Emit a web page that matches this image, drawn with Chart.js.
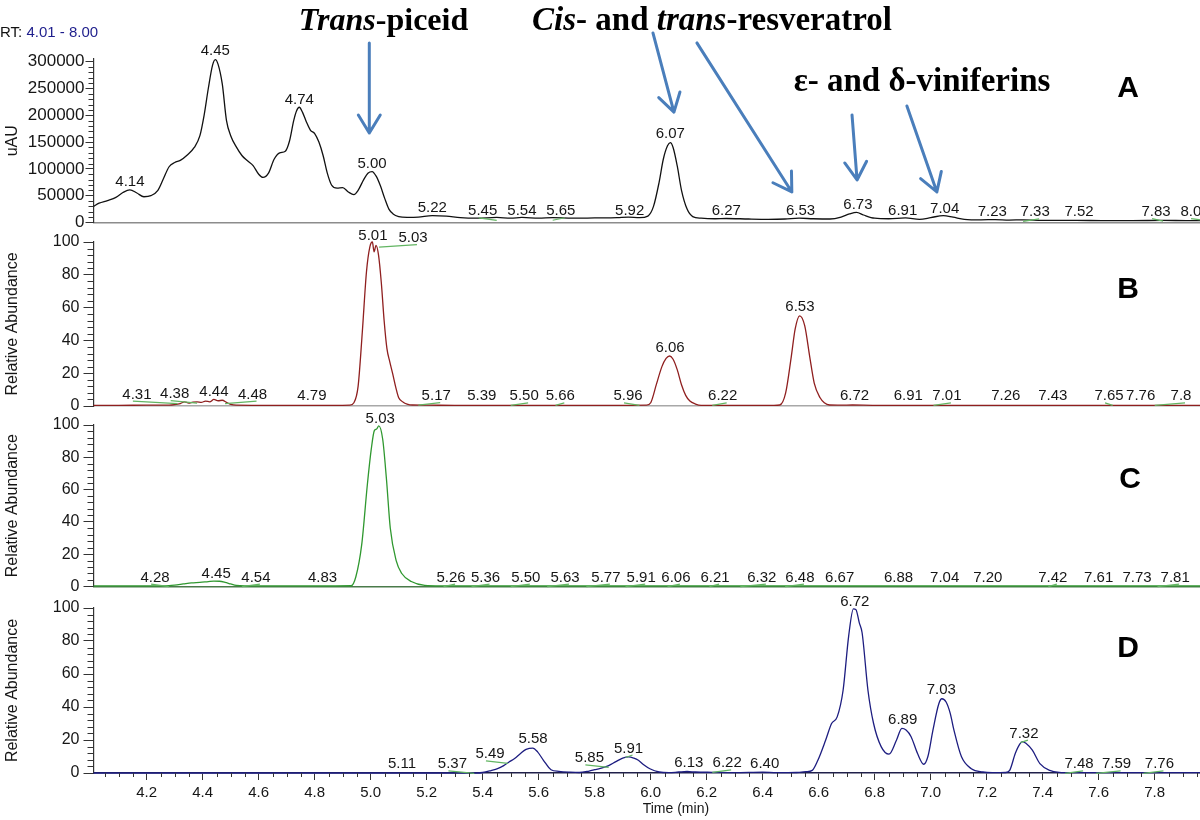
<!DOCTYPE html>
<html>
<head>
<meta charset="utf-8">
<title>Chromatograms A-D</title>
<script src="https://cdn.jsdelivr.net/npm/chart.js@4.4.1/dist/chart.umd.min.js"></script>
<style>
  html, body { margin: 0; padding: 0; background: #fff; overflow: hidden; }
  #wrap { position: relative; width: 1200px; height: 820px; overflow: hidden; background: #fff; }
  #wrap canvas { position: absolute; left: 0; }
</style>
</head>
<body>
<div id="wrap">
  <canvas id="chartA" width="1212" height="240" style="top:0px"></canvas>
  <canvas id="chartB" width="1212" height="200" style="top:220px"></canvas>
  <canvas id="chartC" width="1212" height="200" style="top:400px"></canvas>
  <canvas id="chartD" width="1212" height="240" style="top:580px"></canvas>
</div>
<script>
// --- tick labels ---
const xTicks = [4.2, 4.4, 4.6, 4.8, 5.0, 5.2, 5.4, 5.6, 5.8, 6.0, 6.2, 6.4, 6.6, 6.8, 7.0, 7.2, 7.4, 7.6, 7.8];
const yTicksA = [0, 50000, 100000, 150000, 200000, 250000, 300000];
const yTicksRel = [0, 20, 40, 60, 80, 100];

// --- A: UV trace (uAU) ---
const timeA = [4.01, 4.03, 4.06, 4.09, 4.115, 4.14, 4.165, 4.19, 4.215, 4.24, 4.26, 4.28, 4.30, 4.32, 4.345, 4.37, 4.39, 4.405, 4.42, 4.435,
  4.445, 4.455, 4.47, 4.485, 4.50, 4.52, 4.54, 4.56, 4.58, 4.60, 4.615, 4.635, 4.655, 4.675, 4.695, 4.71, 4.725, 4.735, 4.745, 4.757,
  4.77, 4.785, 4.80, 4.815, 4.83, 4.845, 4.86, 4.88, 4.90, 4.92, 4.94, 4.955, 4.975, 4.99, 5.005, 5.02, 5.035, 5.05, 5.065, 5.08,
  5.10, 5.13, 5.17, 5.22, 5.27, 5.32, 5.38, 5.45, 5.50, 5.54, 5.60, 5.65, 5.72, 5.80, 5.88, 5.92, 5.96, 5.99, 6.01, 6.03,
  6.045, 6.06, 6.07, 6.08, 6.095, 6.11, 6.13, 6.15, 6.18, 6.23, 6.27, 6.35, 6.42, 6.48, 6.53, 6.58, 6.64, 6.68, 6.71, 6.735,
  6.76, 6.80, 6.85, 6.91, 6.96, 7.00, 7.045, 7.08, 7.12, 7.18, 7.23, 7.28, 7.33, 7.40, 7.52, 7.62, 7.72, 7.83, 7.92, 8.00];
const uauA = [30000, 36000, 41000, 47000, 56000, 61000, 55000, 48000, 50000, 60000, 82000, 104000, 112000, 116000, 126000, 140000, 162000, 200000, 250000, 293000,
  304000, 295000, 258000, 190000, 162000, 141000, 125000, 115000, 106000, 90000, 84000, 92000, 118000, 130000, 133000, 152000, 190000, 208000, 215000, 205000,
  188000, 172000, 166000, 150000, 125000, 92000, 70000, 64000, 65000, 57000, 52000, 60000, 80000, 92000, 95000, 86000, 68000, 45000, 25000, 16000,
  11000, 9500, 10000, 13000, 12000, 9000, 8000, 9500, 8000, 9500, 8000, 9000, 8000, 8500, 9000, 10000, 9000, 12000, 30000, 75000,
  118000, 143000, 149000, 140000, 105000, 60000, 25000, 11000, 8000, 7000, 7500, 6500, 6000, 6500, 8000, 7000, 6500, 10000, 16000, 19000,
  14000, 8000, 7000, 8500, 6000, 9000, 13000, 10000, 6000, 5000, 5500, 4500, 5000, 4000, 4000, 3500, 3500, 4000, 3500, 3500];

// --- B: relative abundance ---
const timeB = [4.01, 4.10, 4.20, 4.28, 4.30, 4.32, 4.335, 4.35, 4.365, 4.38, 4.395, 4.41, 4.425, 4.44, 4.455, 4.47, 4.485, 4.50, 4.52, 4.60,
  4.70, 4.80, 4.90, 4.925, 4.94, 4.955, 4.97, 4.985, 4.997, 5.006, 5.012, 5.019, 5.028, 5.038, 5.048, 5.058, 5.068, 5.078, 5.09, 5.10,
  5.115, 5.13, 5.15, 5.20, 5.30, 5.40, 5.50, 5.60, 5.70, 5.80, 5.90, 5.985, 6.00, 6.02, 6.04, 6.055, 6.068, 6.08, 6.095, 6.11,
  6.125, 6.14, 6.16, 6.18, 6.25, 6.35, 6.44, 6.461, 6.482, 6.502, 6.516, 6.532, 6.55, 6.568, 6.584, 6.605, 6.62, 6.639, 6.68, 6.72,
  6.80, 6.90, 7.00, 7.10, 7.20, 7.30, 7.40, 7.50, 7.60, 7.70, 7.80, 7.90, 8.00];
const relB = [0.4, 0.4, 0.5, 0.5, 0.8, 1.5, 2.5, 1.8, 2.4, 2.5, 2.2, 3.0, 2.5, 4.0, 3.2, 3.5, 2.2, 1.0, 0.5, 0.4,
  0.4, 0.4, 0.4, 0.5, 2, 12, 45, 82, 97, 100, 94, 98, 92, 75, 52, 35, 27, 20, 11, 5,
  2.5, 1.2, 0.6, 0.5, 0.4, 0.4, 0.4, 0.4, 0.4, 0.4, 0.4, 0.5, 2, 13, 24, 29, 30.5, 28.5, 22, 13,
  6.5, 3, 1.2, 0.4, 0.4, 0.4, 0.4, 0.6, 8, 30, 47, 55, 49, 30, 14, 5, 2, 0.6, 0.5, 0.6,
  0.4, 0.4, 0.4, 0.4, 0.4, 0.4, 0.4, 0.4, 0.4, 0.4, 0.4, 0.4, 0.4];

// --- C: relative abundance ---
const timeC = [4.01, 4.10, 4.20, 4.28, 4.30, 4.33, 4.36, 4.39, 4.42, 4.44, 4.46, 4.48, 4.50, 4.52, 4.55, 4.65, 4.75, 4.85, 4.93, 4.947,
  4.968, 4.988, 5.002, 5.013, 5.021, 5.029, 5.043, 5.056, 5.07, 5.091, 5.111, 5.145, 5.193, 5.25, 5.40, 5.60, 5.80, 6.00, 6.20, 6.40,
  6.60, 6.80, 7.00, 7.20, 7.40, 7.60, 7.80, 8.00];
const relC = [0.3, 0.3, 0.3, 0.5, 0.8, 1.5, 2.2, 2.5, 3.0, 3.3, 3.2, 2.5, 1.5, 0.6, 0.3, 0.3, 0.3, 0.3, 0.4, 6,
  26, 63, 85, 96.5, 97.5, 99.5, 91, 67, 36, 16, 8, 3, 0.6, 0.3, 0.3, 0.3, 0.3, 0.3, 0.3, 0.3,
  0.3, 0.3, 0.3, 0.3, 0.3, 0.3, 0.3, 0.3];

// --- D: relative abundance ---
const timeD = [4.01, 4.50, 5.00, 5.38, 5.40, 5.43, 5.453, 5.475, 5.494, 5.514, 5.535, 5.555, 5.579, 5.596, 5.617, 5.644, 5.672, 5.712, 5.745, 5.78,
  5.80, 5.82, 5.85, 5.874, 5.90, 5.921, 5.94, 5.956, 5.975, 5.997, 6.03, 6.065, 6.10, 6.13, 6.16, 6.22, 6.30, 6.40, 6.45, 6.52,
  6.555, 6.577, 6.597, 6.625, 6.646, 6.666, 6.687, 6.707, 6.724, 6.733, 6.745, 6.755, 6.776, 6.796, 6.823, 6.851, 6.878, 6.897, 6.912, 6.93,
  6.953, 6.975, 6.99, 7.008, 7.029, 7.04, 7.055, 7.07, 7.083, 7.11, 7.145, 7.186, 7.22, 7.268, 7.282, 7.302, 7.318, 7.328, 7.34, 7.363,
  7.39, 7.425, 7.459, 7.50, 7.60, 7.80, 8.00];
const relD = [0, 0, 0, 0, 0.3, 1.5, 2.6, 4.5, 6.7, 8.8, 11.8, 14.3, 15.1, 12.8, 7.7, 2.0, 1.0, 0.5, 0.3, 1.2,
  2.0, 2.8, 4.5, 6.7, 9.0, 9.8, 9.0, 7.7, 5, 2.6, 0.6, 0.2, 0.6, 0.9, 0.6, 0.4, 0.2, 0.5, 0.2, 0.3,
  0.8, 1.6, 7.7, 20, 30, 34, 50, 83, 99.5, 99, 91, 85, 50, 30, 16, 11.4, 20, 27, 26, 22,
  11.8, 5.3, 10, 26, 42, 45, 43, 36, 26, 9.8, 2.6, 0.6, 0.2, 0.3, 1.6, 11.8, 17.5, 19, 18, 13.8,
  5.7, 1.6, 0.4, 0.2, 0.2, 0.2, 0.2];

// --- peak labels: text, time where drawn, signal level it sits on ---
const lblA = ['4.14', '4.45', '4.74', '5.00', '5.22', '5.45', '5.54', '5.65', '5.92', '6.07', '6.27', '6.53', '6.73', '6.91', '7.04', '7.23', '7.33', '7.52', '7.83', '8.00'];
const lblAtA = [4.14, 4.445, 4.745, 5.005, 5.22, 5.40, 5.54, 5.679, 5.925, 6.07, 6.27, 6.535, 6.74, 6.90, 7.05, 7.22, 7.373, 7.53, 7.805, 7.944];
const lblLvA = [60000, 305000, 214000, 94000, 11400, 6000, 6000, 6000, 6000, 150000, 5600, 6000, 17000, 6000, 10000, 5000, 4000, 4000, 4500, 4500];

const lblB = ['4.31', '4.38', '4.44', '4.48', '4.79', '5.01', '5.03', '5.17', '5.39', '5.50', '5.66', '5.96', '6.06', '6.22', '6.53', '6.72', '6.91', '7.01', '7.26', '7.43', '7.65', '7.76', '7.8'];
const lblAtB = [4.165, 4.30, 4.44, 4.578, 4.79, 5.008, 5.151, 5.234, 5.397, 5.548, 5.677, 5.919, 6.069, 6.257, 6.533, 6.728, 6.92, 7.058, 7.268, 7.436, 7.637, 7.75, 7.894];
const lblLvB = [2, 2.4, 3.6, 2, 1.2, 98.5, 97.5, 1.2, 1, 1, 1, 1, 30.3, 1, 55.2, 1.2, 1, 1, 1, 1, 1, 1, 1];

const lblC = ['4.28', '4.45', '4.54', '4.83', '5.03', '5.26', '5.36', '5.50', '5.63', '5.77', '5.91', '6.06', '6.21', '6.32', '6.48', '6.67', '6.88', '7.04', '7.20', '7.42', '7.61', '7.73', '7.81'];
const lblAtC = [4.23, 4.448, 4.59, 4.828, 5.034, 5.287, 5.41, 5.554, 5.694, 5.84, 5.966, 6.09, 6.23, 6.397, 6.533, 6.675, 6.885, 7.05, 7.204, 7.436, 7.60, 7.737, 7.873];
const lblLvC = [0.5, 3, 0.5, 0.5, 98.5, 0.5, 0.5, 0.5, 0.5, 0.5, 0.5, 0.5, 0.5, 0.5, 0.5, 0.5, 0.5, 0.5, 0.5, 0.5, 0.5, 0.5, 0.5];

const lblD = ['5.11', '5.37', '5.49', '5.58', '5.85', '5.91', '6.13', '6.22', '6.40', '6.72', '6.89', '7.03', '7.32', '7.48', '7.59', '7.76'];
const lblAtD = [5.112, 5.292, 5.426, 5.58, 5.781, 5.921, 6.136, 6.273, 6.407, 6.729, 6.90, 7.038, 7.333, 7.53, 7.664, 7.817];
const lblLvD = [0.4, 0.4, 6.4, 15.5, 4, 10, 1, 1, 0.4, 99, 27, 45.4, 19, 0.4, 0.4, 0.4];

// --- arrows on panel A (time, uAU) ---
const arrowFromT = [4.995, 6.008, 6.165, 6.719, 6.915];
const arrowFromV = [335000, 353600, 335000, 200600, 217400];
const arrowToT = [4.995, 6.083, 6.504, 6.737, 7.022];
const arrowToV = [167000, 206000, 57000, 79300, 57000];

const FONT = '"Liberation Sans", Arial, Helvetica, sans-serif';
const SERIF = '"Liberation Serif", "Times New Roman", serif';
Chart.defaults.font.family = FONT;

function zip(ts, vs) {
  const n = Math.min(ts.length, vs.length);
  const out = [];
  for (let i = 0; i < n; i++) out.push({ x: ts[i], y: vs[i] });
  return out;
}

const peakLabels = {
  id: 'peakLabels',
  afterDatasetsDraw(chart, args, o) {
    const { ctx, scales: { x, y } } = chart;
    ctx.save();
    ctx.font = '15px ' + FONT;
    ctx.textAlign = 'center';
    ctx.textBaseline = 'alphabetic';
    o.texts.forEach((txt, i) => {
      const lx = x.getPixelForValue(o.at[i]);
      const ly = y.getPixelForValue(o.levels[i]);
      const px = x.getPixelForValue(Number(txt));
      if (Math.abs(px - lx) > 3) {
        const dir = Math.sign(px - lx);
        ctx.strokeStyle = '#62b562';
        ctx.lineWidth = 1.2;
        ctx.beginPath();
        ctx.moveTo(lx - dir * 4, ly - 1.5);
        ctx.lineTo(px, ly + 1);
        ctx.stroke();
      }
      ctx.fillStyle = '#161616';
      ctx.fillText(txt, lx, ly - 4);
    });
    ctx.restore();
  }
};

function isMajor(v, step) {
  const r = v / step;
  return Math.abs(r - Math.round(r)) < 1e-6;
}

const minorTicks = {
  id: 'minorTicks',
  afterDraw(chart, args, o) {
    const { ctx, scales: { x, y } } = chart;
    ctx.save();
    ctx.strokeStyle = '#333';
    ctx.lineWidth = 1;
    ctx.beginPath();
    for (let k = 1; k * o.yStep <= y.max + 1e-9; k++) {
      const v = k * o.yStep;
      if (isMajor(v, o.yMajor)) continue;
      const py = Math.round(y.getPixelForValue(v)) + 0.5;
      ctx.moveTo(x.left - o.yLen, py);
      ctx.lineTo(x.left, py);
    }
    if (o.xStep) {
      for (let k = Math.ceil(x.min / o.xStep); k * o.xStep <= x.max + 1e-9; k++) {
        const v = k * o.xStep;
        if (isMajor(v, 0.2)) continue;
        const px = Math.round(x.getPixelForValue(v)) + 0.5;
        ctx.moveTo(px, y.bottom);
        ctx.lineTo(px, y.bottom + o.xLen);
      }
    }
    ctx.stroke();
    ctx.restore();
  }
};

const panelLetter = {
  id: 'panelLetter',
  afterDraw(chart, args, o) {
    const ctx = chart.ctx;
    ctx.save();
    ctx.font = 'bold 30px ' + FONT;
    ctx.fillStyle = '#000';
    ctx.textAlign = 'center';
    ctx.textBaseline = 'alphabetic';
    ctx.fillText(o.text, o.x, o.y);
    ctx.restore();
  }
};

function drawRich(ctx, parts, size, cx, base) {
  const fontOf = p => (p[1] ? 'italic ' : '') + 'bold ' + size + 'px ' + SERIF;
  let w = 0;
  parts.forEach(p => { ctx.font = fontOf(p); w += ctx.measureText(p[0]).width; });
  let x = cx - w / 2;
  ctx.textAlign = 'left';
  ctx.textBaseline = 'alphabetic';
  ctx.fillStyle = '#000';
  parts.forEach(p => { ctx.font = fontOf(p); ctx.fillText(p[0], x, base); x += ctx.measureText(p[0]).width; });
}

function arrow(ctx, x0, y0, x1, y1) {
  const ang = Math.atan2(y1 - y0, x1 - x0), L = 21, a = 0.55;
  ctx.beginPath();
  ctx.moveTo(x0, y0);
  ctx.lineTo(x1, y1);
  ctx.moveTo(x1 - L * Math.cos(ang - a), y1 - L * Math.sin(ang - a));
  ctx.lineTo(x1, y1);
  ctx.lineTo(x1 - L * Math.cos(ang + a), y1 - L * Math.sin(ang + a));
  ctx.stroke();
}

// titles, arrows and run range on top panel
const topNotes = {
  id: 'topNotes',
  afterDraw(chart) {
    const { ctx, scales: { x, y } } = chart;
    ctx.save();
    ctx.font = '15px ' + FONT;
    ctx.textAlign = 'left';
    ctx.textBaseline = 'alphabetic';
    ctx.fillStyle = '#111';
    ctx.fillText('RT:', 0, 36.5);
    const w = ctx.measureText('RT: ').width;
    ctx.fillStyle = '#1e1e8c';
    ctx.fillText('4.01 - 8.00', w, 36.5);

    drawRich(ctx, [['Trans', true], ['-piceid', false]], 32, 383.5, 30);
    drawRich(ctx, [['Cis', true], ['- and ', false], ['trans', true], ['-resveratrol', false]], 33, 712, 30);
    drawRich(ctx, [['\u03b5- and \u03b4-viniferins', false]], 33, 922, 91);

    ctx.strokeStyle = '#4a7ebb';
    ctx.lineWidth = 3;
    ctx.lineCap = 'round';
    ctx.lineJoin = 'round';
    arrowFromT.forEach((t, i) => {
      arrow(ctx, x.getPixelForValue(t), y.getPixelForValue(arrowFromV[i]),
        x.getPixelForValue(arrowToT[i]), y.getPixelForValue(arrowToV[i]));
    });
    ctx.restore();
  }
};

const timeTitle = {
  id: 'timeTitle',
  afterDraw(chart) {
    const { ctx, scales: { x } } = chart;
    ctx.save();
    ctx.font = '14px ' + FONT;
    ctx.fillStyle = '#161616';
    ctx.textAlign = 'center';
    ctx.textBaseline = 'alphabetic';
    ctx.fillText('Time (min)', x.getPixelForValue(6.09), 233);
    ctx.restore();
  }
};

function makePanel(id, c) {
  const xScale = c.showX ? {
    type: 'linear', min: 4.01, max: 8.0,
    afterBuildTicks: s => { s.ticks = xTicks.map(v => ({ value: v })); },
    afterFit: s => { s.height = 47; },
    ticks: { callback: v => v.toFixed(1), font: { size: 15 }, color: '#161616', padding: 4, maxRotation: 0, autoSkip: false },
    grid: { drawOnChartArea: false, drawTicks: true, tickLength: 7, color: '#333' },
    border: { display: true, color: '#20204a', width: 1.6 }
  } : {
    type: 'linear', min: 4.01, max: 8.0,
    afterFit: s => { s.height = 0; },
    ticks: { display: false },
    grid: { display: false, drawTicks: false },
    border: { display: true, color: c.baseColor, width: 1.6 }
  };
  return new Chart(document.getElementById(id), {
    type: 'line',
    data: {
      datasets: [{
        data: c.points,
        borderColor: c.color,
        borderWidth: 1.3,
        pointRadius: 0,
        fill: false,
        cubicInterpolationMode: 'monotone',
        clip: false
      }]
    },
    options: {
      responsive: false,
      animation: false,
      events: [],
      layout: { padding: { top: c.padTop, bottom: c.padBottom, left: 0, right: 1.3 } },
      plugins: {
        legend: { display: false },
        tooltip: { enabled: false },
        peakLabels: { texts: c.labels, at: c.labelAt, levels: c.labelLv },
        minorTicks: { yStep: c.minor, yMajor: c.major, yLen: c.minorLen, xStep: c.showX ? 0.05 : 0, xLen: 4 },
        panelLetter: c.letter
      },
      scales: {
        x: xScale,
        y: {
          min: 0, max: c.yMax,
          afterBuildTicks: s => { s.ticks = c.yTicks.map(v => ({ value: v })); },
          afterFit: s => { s.width = 93.5; },
          ticks: { padding: c.tickPad, color: '#161616', font: { size: c.tickSize }, callback: v => String(v) },
          grid: { drawOnChartArea: false, drawTicks: true, tickLength: c.majorLen, color: '#333' },
          border: { display: true, color: '#333', width: 1.2 },
          title: { display: true, text: c.title, color: '#161616', font: { size: 16 }, padding: { top: 3, bottom: 0 } }
        }
      }
    },
    plugins: [peakLabels, minorTicks, panelLetter].concat(c.extra || [])
  });
}

makePanel('chartA', {
  points: zip(timeA, uauA), color: '#111', baseColor: '#8c8c8c',
  padTop: 59, padBottom: 17.5, yMax: 305000, yTicks: yTicksA,
  major: 50000, minor: 10000, majorLen: 8, minorLen: 5, tickPad: 1, tickSize: 17,
  title: 'uAU', labels: lblA, labelAt: lblAtA, labelLv: lblLvA,
  letter: { text: 'A', x: 1128, y: 96.5 }, extra: [topNotes]
});
makePanel('chartB', {
  points: zip(timeB, relB), color: '#8f1f1f', baseColor: '#a8a8a8',
  padTop: 22, padBottom: 14, yMax: 100, yTicks: yTicksRel,
  major: 20, minor: 4, majorLen: 10, minorLen: 6, tickPad: 4, tickSize: 16,
  title: 'Relative Abundance', labels: lblB, labelAt: lblAtB, labelLv: lblLvB,
  letter: { text: 'B', x: 1128, y: 298 - 220 }
});
makePanel('chartC', {
  points: zip(timeC, relC), color: '#2f982f', baseColor: '#4a7a4a',
  padTop: 25, padBottom: 10, yMax: 100, yTicks: yTicksRel,
  major: 20, minor: 4, majorLen: 10, minorLen: 6, tickPad: 4, tickSize: 16,
  title: 'Relative Abundance', labels: lblC, labelAt: lblAtC, labelLv: lblLvC,
  letter: { text: 'C', x: 1130, y: 488 - 400 }
});
makePanel('chartD', {
  points: zip(timeD, relD), color: '#1d1d80', showX: true,
  padTop: 28, padBottom: 0, yMax: 100, yTicks: yTicksRel,
  major: 20, minor: 4, majorLen: 10, minorLen: 6, tickPad: 4, tickSize: 16,
  title: 'Relative Abundance', labels: lblD, labelAt: lblAtD, labelLv: lblLvD,
  letter: { text: 'D', x: 1128, y: 657 - 580 }, extra: [timeTitle]
});
</script>
</body>
</html>
